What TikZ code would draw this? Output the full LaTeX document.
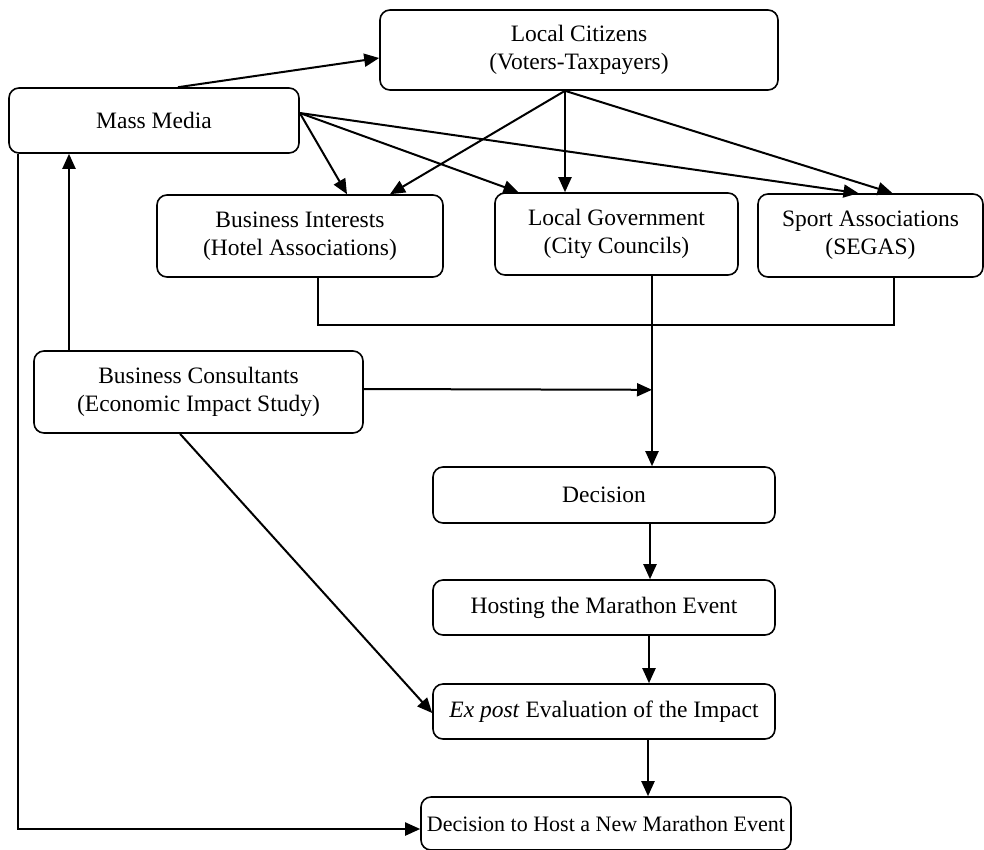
\documentclass[tikz,border=0pt]{standalone}
\usepackage{fontspec}
\setmainfont{Liberation Serif}
\usetikzlibrary{arrows.meta,calc}
\tikzset{
  box/.style={draw, line width=1.6pt, rounded corners=10pt, align=center, inner sep=0pt,
    font=\fontsize{23.5}{28}\selectfont},
  arr/.style={line width=2pt, -{Triangle[length=15pt,width=13pt]}},
  ln/.style={line width=2pt},
}
\begin{document}
\begin{tikzpicture}[x=1pt,y=-1pt]
\useasboundingbox (0,0) rectangle (984,849);
\node[box, minimum width=398pt, minimum height=80pt] (cit) at (579,50) {Local Citizens\\(Voters-Taxpayers)};
\node[box, minimum width=290pt, minimum height=65pt] (mm) at (154,120.5) {Mass Media};
\node[box, minimum width=286pt, minimum height=82pt] (bi) at (300,236) {Business Interests\\(Hotel Associations)};
\node[box, minimum width=243pt, minimum height=82pt] (lg) at (616.5,234) {Local Government\\(City Councils)};
\node[box, minimum width=225pt, minimum height=83pt] (sa) at (870.5,235.5) {Sport Associations\\(SEGAS)};
\node[box, minimum width=329pt, minimum height=82pt] (bc) at (198.5,392) {Business Consultants\\(Economic Impact Study)};
\node[box, minimum width=342pt, minimum height=56pt] (dec) at (604,495) {Decision};
\node[box, minimum width=342pt, minimum height=55pt] (host) at (604,607.5) {Hosting the Marathon Event};
\node[box, minimum width=342pt, minimum height=55pt] (ex) at (604,711.5) {\textit{Ex post} Evaluation of the Impact};
\node[box, minimum width=370pt, minimum height=53pt, font=\fontsize{22}{26}\selectfont] (new) at (606,823.5) {Decision to Host a New Marathon Event};

% Mass Media outgoing
\coordinate (mmr) at ($(mm.east)+(0,-7.5)$);
\draw[arr] ($(mm.north)+(24,0)$) -- ($(cit.west)+(0,8)$);
\draw[arr] (mmr) -- ($(bi.north)+(47,0)$);
\draw[arr] (mmr) -- ($(lg.north)+(-98,0)$);
\draw[arr] (mmr) -- ($(sa.north)+(-12,0)$);

% Local Citizens outgoing
\coordinate (cs) at ($(cit.south)+(-14,0)$);
\draw[arr] (cs) -- ($(bi.north)+(90,0)$);
\draw[arr] (cs) -- ($(lg.north)+(-51.5,0)$);
\draw[arr] (cs) -- ($(sa.north)+(22,0)$);

% bracket joining business interests and sport associations
\coordinate (bib) at ($(bi.south)+(18,0)$);
\coordinate (sab) at ($(sa.south)+(23.5,0)$);
\draw[ln] (bib) -- ($(bib)+(0,47)$) -| (sab);

% Local government to decision
\coordinate (lgb) at ($(lg.south)+(35.5,0)$);
\coordinate (jn) at ($(lgb)+(0,114)$);
\draw[arr] (lgb) -- ($(dec.north)+(48,0)$);
\draw[arr] ($(bc.east)+(0,-3)$) -- (jn);

% Consultants
\draw[arr] ($(bc.north)+(-129.5,0)$) -- ($(mm.south)+(-85,0)$);
\draw[arr] ($(bc.south)+(-18.5,0)$) -- ($(ex.west)+(0,1.5)$);

% Mass Media to new decision
\draw[arr] ($(mm.south)+(-136,0)$) |- ($(new.west)+(0,5.5)$);

% main chain
\draw[arr] ($(dec.south)+(46,0)$) -- ($(host.north)+(46,0)$);
\draw[arr] ($(host.south)+(45,0)$) -- ($(ex.north)+(45,0)$);
\draw[arr] ($(ex.south)+(44,0)$) -- ($(new.north)+(42,0)$);
\end{tikzpicture}
\end{document}
